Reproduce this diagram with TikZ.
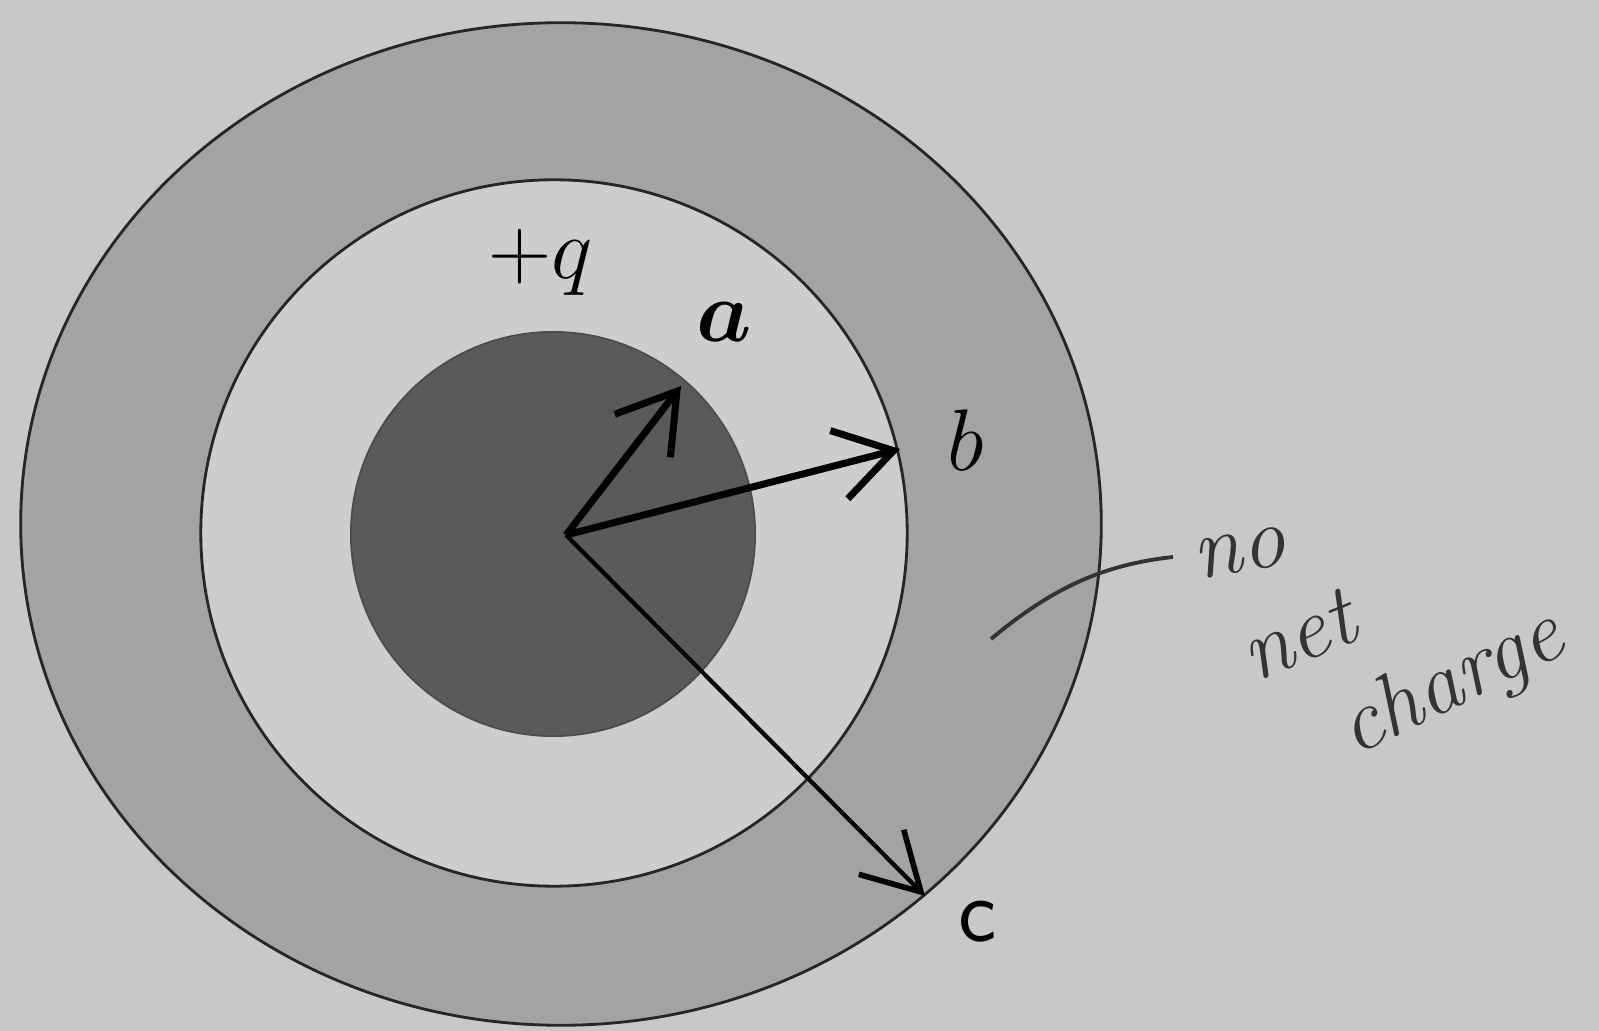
\documentclass[tikz,border=0pt]{standalone}
\usepackage{amsmath,bm}
\usepackage{xcolor}
\definecolor{paper}{HTML}{C8C8C6}
\definecolor{shell}{HTML}{A3A3A1}
\definecolor{gap}{HTML}{CDCDCB}
\definecolor{core}{HTML}{5A5A58}
\usetikzlibrary{arrows.meta}

\begin{document}
\begin{tikzpicture}[
		x=0.01cm, y=-0.01cm,
		rim/.style={line width=0.8pt, black!85},
		radvec/.style={line width=2pt, -{Straight Barb[length=16pt, width=20pt, line width=2pt]}},
		lbl/.style={font=\fontsize{28}{28}\selectfont},
		hand/.style={font=\fontsize{25}{25}\selectfont\itshape, black!80, inner sep=0pt}
	]
		\useasboundingbox (0,0) rectangle (1599,1031);
		\fill[paper] (0,0) rectangle (1599,1031);

		% shell, cavity and charged core
		\filldraw[rim, fill=shell] (561,524) ellipse [x radius=5.40cm, y radius=5.01cm];
		\filldraw[rim, fill=gap] (554,533) circle [radius=3.53cm];
		\filldraw[line width=0.5pt, draw=black!70, fill=core] (553,534) circle [radius=2.02cm];

		\coordinate (o) at (566,535);
		\coordinate (ta) at (681,386);
		\coordinate (tb) at (900,449);
		\coordinate (tc) at (925,896);

		\draw[radvec] (o) -- (ta);
		\draw[radvec] (o) -- (tb);
		\draw[radvec, line width=1.2pt, -{Straight Barb[length=16pt, width=18pt, line width=1.6pt]}] (o) -- (tc);

		\node[lbl, font=\fontsize{24}{24}\selectfont] (q) at (541,262) {$+q$};
		\node[lbl] (a) at (724,322) {$\bm{a}$};
		\node[lbl] (b) at (966,440) {$b$};
		\node[lbl, font=\fontsize{26}{26}\selectfont\sffamily] (c) at (978,922) {c};

		% handwritten note
		\node[hand, rotate=10] (no) at (1240,553) {no};
		\node[hand, rotate=22] (net) at (1298,636) {net};
		\node[hand, rotate=26] (charge) at (1452,685) {charge};
		\coordinate (lead) at (991,639);
		\draw[line width=1.1pt, black!80] (lead) .. controls (1050,590) and (1100,565) .. (1173,557);
	\end{tikzpicture}
\end{document}
